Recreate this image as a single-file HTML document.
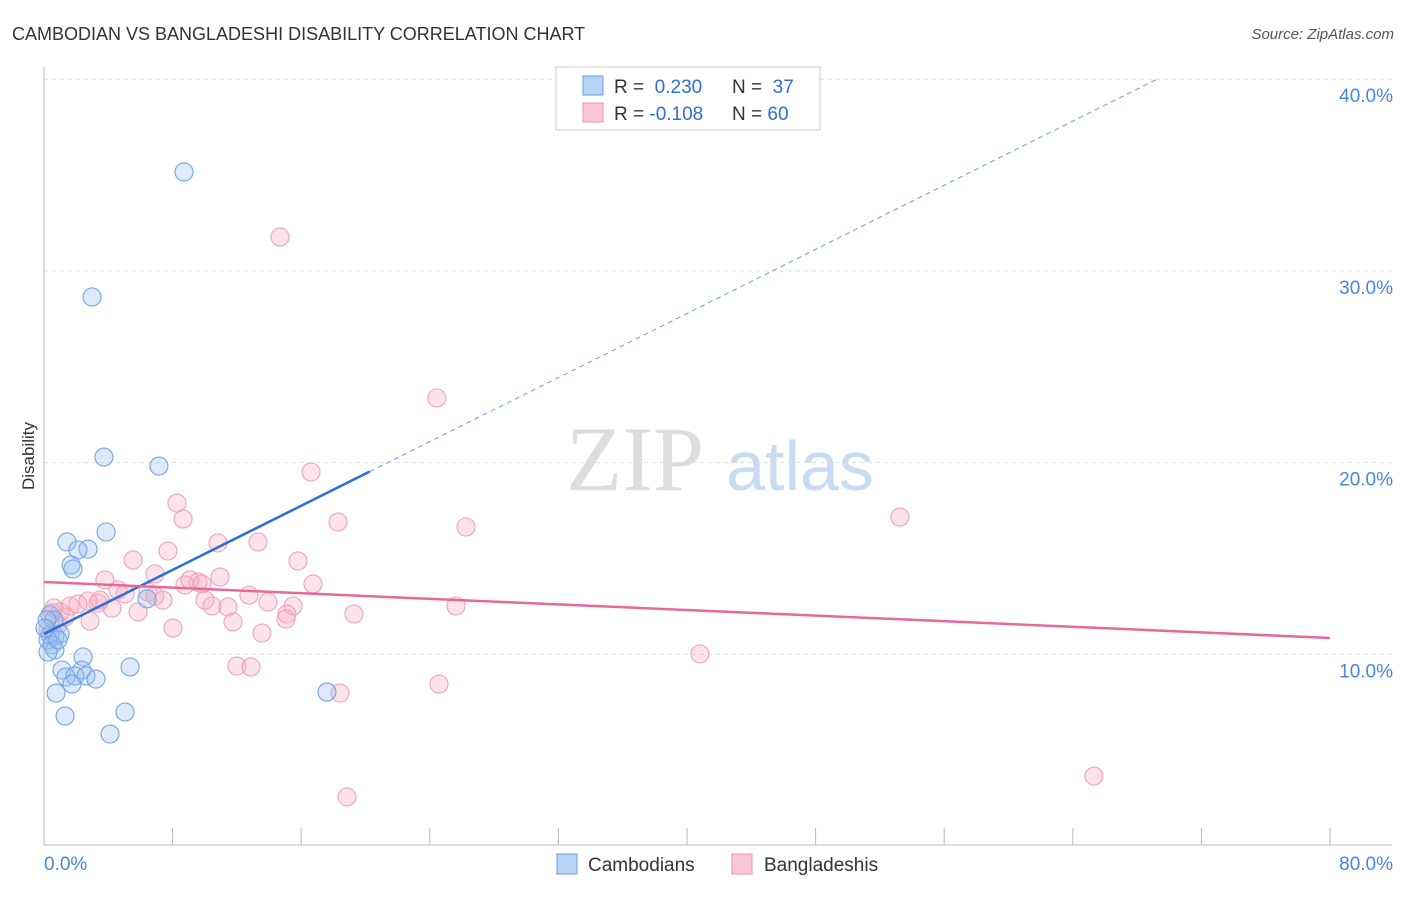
<!DOCTYPE html>
<html><head><meta charset="utf-8"><style>
body{margin:0;background:#fff;font-family:"Liberation Sans",sans-serif}
</style></head><body>
<svg width="1406" height="892" xmlns="http://www.w3.org/2000/svg">
<text x="12" y="40" font-size="18" fill="#333">CAMBODIAN VS BANGLADESHI DISABILITY CORRELATION CHART</text>
<text x="1394" y="39" font-size="15" fill="#555" font-style="italic" text-anchor="end">Source: ZipAtlas.com</text>
<g>
<text x="635" y="490" font-size="92" fill="#ddd" font-family="Liberation Serif,serif" text-anchor="middle">ZIP</text>
<text x="800" y="490" font-size="70" fill="#c9dbf3" text-anchor="middle">atlas</text>
</g>
<g id="grid"></g>
<g id="axes"></g>
<g id="marks"></g>
<text x="34" y="456" font-size="17" fill="#333" transform="rotate(-90 34 456)" text-anchor="middle">Disability</text>
<g>
<rect x="556" y="67" width="264" height="63" fill="#fff" stroke="#ccc"/>
<rect x="583" y="76" width="20" height="19" fill="#b8d3f5" stroke="#6a9ee0"/>
<rect x="583" y="103" width="20" height="19" fill="#f9c6d5" stroke="#ec94b0"/>
<text x="614" y="93" font-size="19" fill="#333">R = <tspan fill="#2f6fd6">&#160;0.230</tspan><tspan x="732">N = </tspan><tspan fill="#2f6fd6">&#160;37</tspan></text>
<text x="614" y="120" font-size="19" fill="#333">R = <tspan fill="#2f6fd6">-0.108</tspan><tspan x="732">N = </tspan><tspan fill="#2f6fd6">60</tspan></text>
</g>
<g>
<rect x="557" y="854" width="20" height="20" fill="#b8d3f5" stroke="#6a9ee0"/>
<text x="588" y="871" font-size="19" fill="#333">Cambodians</text>
<rect x="732" y="854" width="20" height="20" fill="#f9c6d5" stroke="#ec94b0"/>
<text x="764" y="871" font-size="19" fill="#333">Bangladeshis</text>
</g>
</svg>
<script>
const blueX=[8.71,2.99,3.73,7.15,3.86,1.43,2.74,2.11,1.68,1.80,6.41,0.37,0.62,1.0,0.37,0.68,0.25,0.50,0.68,0.25,2.43,5.35,1.12,2.36,1.37,1.93,2.61,3.23,1.74,0.75,17.6,1.31,5.04,4.11,0.19,0.06,0.87];
const blueY=[35.16,28.64,20.29,19.82,16.38,15.86,15.49,15.44,14.66,14.45,12.89,12.05,11.79,11.06,11.01,10.96,10.75,10.49,10.23,10.12,9.86,9.34,9.18,9.18,8.82,8.87,8.87,8.71,8.45,7.98,8.03,6.78,6.99,5.84,11.79,11.37,10.75];
const pinkX=[14.68,24.44,16.61,8.27,8.65,18.29,26.25,53.24,10.82,13.31,7.71,5.54,15.80,6.90,3.79,9.08,9.58,9.83,10.95,16.73,4.60,5.04,6.47,6.90,7.40,12.75,10.01,13.93,10.45,11.44,15.49,25.63,1.62,2.11,2.74,3.36,4.23,5.85,15.11,19.28,1.00,0.50,1.31,2.86,11.76,15.05,8.02,13.56,0.25,40.80,12.0,12.88,18.41,24.57,65.31,18.85,0.87,0.62,3.48,8.77];
const pinkY=[31.77,23.37,19.51,17.89,17.06,16.90,16.64,17.16,15.81,15.86,15.39,14.92,14.87,14.19,13.88,13.88,13.77,13.67,14.03,13.67,13.36,13.15,13.25,13.04,12.83,13.09,12.83,12.73,12.52,12.47,12.52,12.52,12.52,12.62,12.78,12.67,12.41,12.21,12.10,12.10,12.21,12.16,11.95,11.74,11.69,11.84,11.37,11.11,11.27,10.02,9.39,9.34,7.98,8.45,3.65,2.56,11.53,12.42,12.83,13.62];
const blueTrend=[11.06,0.418];
const pinkTrend=[13.77,-0.0365];
const yTicks=[10,20,30,40];
const yTickLabels=["10.0%","20.0%","30.0%","40.0%"];
const xTicks=[0,8,16,24,32,40,48,56,64,72,80];
const xTickLabels=["0.0%","80.0%"];
const NS="http://www.w3.org/2000/svg";
const sx=v=>44+v*(1286/80), sy=v=>846-v*19.17;
function mk(tag,at,parent){const e=document.createElementNS(NS,tag);for(const k in at)e.setAttribute(k,at[k]);document.getElementById(parent).appendChild(e);return e;}
yTicks.forEach((t,i)=>{
 const l=mk('line',{x1:44,x2:1392,y1:sy(t),y2:sy(t),stroke:'#ddd','stroke-dasharray':'4,4'},'grid');
 
 
 const tx=mk('text',{x:1393,y:sy(t)+23,'font-size':19,fill:'#4a85dc','text-anchor':'end'},'grid');
 tx.textContent=yTickLabels[i];
 
 
});
mk('line',{x1:44,x2:44,y1:67,y2:845,stroke:'#bbb'},'axes');
mk('line',{x1:44,x2:1392,y1:845,y2:845,stroke:'#bbb'},'axes');
xTicks.forEach(t=>{const l=mk('line',{x1:sx(t),x2:sx(t),y1:828,y2:845,stroke:'#bbb'},'axes');
 
 });
const x0=mk('text',{x:44,y:870,'font-size':19,fill:'#4a85dc'},'axes');x0.textContent=xTickLabels[0];


const x1=mk('text',{x:1393,y:870,'font-size':19,fill:'#4a85dc','text-anchor':'end'},'axes');x1.textContent=xTickLabels[1];


pinkX.forEach((x,i)=>{const c=mk('circle',{cx:sx(x),cy:sy(pinkY[i]),r:9,fill:'rgba(245,170,195,0.33)',stroke:'#f0a3bb','stroke-width':1.1},'marks');
 
 });
blueX.forEach((x,i)=>{const c=mk('circle',{cx:sx(x),cy:sy(blueY[i]),r:9,fill:'rgba(150,190,240,0.33)',stroke:'#76a4e4','stroke-width':1.1},'marks');
 
 });
const bEnd=20.27, bDash=(40-blueTrend[0])/blueTrend[1];
const bl=mk('line',{x1:sx(0),y1:sy(blueTrend[0]),x2:sx(bEnd),y2:sy(blueTrend[0]+blueTrend[1]*bEnd),stroke:'#2a6fd6','stroke-width':2.5},'marks');


const bd=mk('line',{x1:sx(bEnd),y1:sy(blueTrend[0]+blueTrend[1]*bEnd),x2:sx(bDash),y2:sy(40),stroke:'#6a9ee0','stroke-width':1,'stroke-dasharray':'5,4'},'marks');


const pl=mk('line',{x1:sx(0),y1:sy(pinkTrend[0]),x2:sx(80),y2:sy(pinkTrend[0]+pinkTrend[1]*80),stroke:'#e8689a','stroke-width':2.5},'marks');


</script>
</body></html>
